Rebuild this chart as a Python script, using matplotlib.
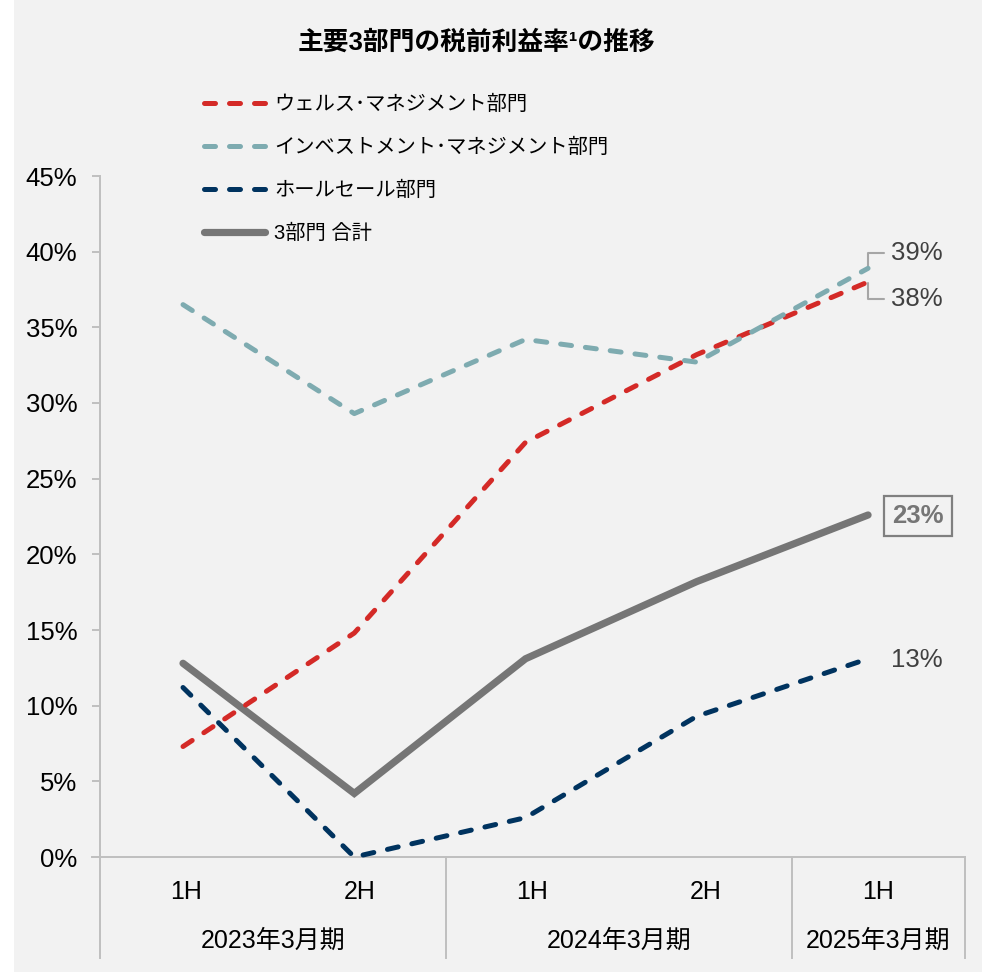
import matplotlib
matplotlib.use('Agg')
import matplotlib.pyplot as plt
import matplotlib.transforms as mtransforms
from matplotlib.patches import Rectangle

plt.rcParams['font.family'] = ['Liberation Sans', 'Noto Sans CJK JP']

# ---------------- data ----------------
title = '主要3部門の税前利益率¹の推移'
periods = ['1H', '2H', '1H', '2H', '1H']
fiscal_years = ['2023年3月期', '2024年3月期', '2025年3月期']
group_sizes = [2, 2, 1]
series_names = ['ウェルス･マネジメント部門', 'インベストメント･マネジメント部門',
                'ホールセール部門', '3部門 合計']
wealth = [7.3, 14.8, 27.4, 33.2, 38.0]
investment = [36.5, 29.3, 34.2, 32.7, 38.9]
wholesale = [11.2, 0.0, 2.6, 9.3, 13.1]
total = [12.8, 4.2, 13.1, 18.2, 22.6]
yticks = [0, 5, 10, 15, 20, 25, 30, 35, 40, 45]
end_labels = {'wealth': '38%', 'investment': '39%', 'wholesale': '13%', 'total': '23%'}

# ---------------- styles ----------------
C_RED = '#d42a27'
C_TEAL = '#7eabb0'
C_NAVY = '#00335f'
C_GRAY = '#767676'
C_AXIS = '#bfbfbf'
C_TXT = '#404040'

W, H = 994, 972
fig = plt.figure(figsize=(W / 100, H / 100), dpi=100)
fig.patch.set_facecolor('white')
fig.patches.append(Rectangle((14 / W, 0), (982 - 14) / W, 1, transform=fig.transFigure,
                             facecolor='#f2f2f2', edgecolor='none', zorder=-10))

ax = fig.add_axes([100 / W, (H - 857) / H, 865 / W, 681 / H])
ax.patch.set_visible(False)

x = list(range(len(periods)))
xmin, xmax = -0.4847, 4.566
ax.set_xlim(xmin, xmax)
ax.set_ylim(0, 45)

dash_kw = dict(lw=3.6, dashes=(2.2, 2.8), dash_capstyle='round', solid_capstyle='round')
l_tot, = ax.plot(x, total, color=C_GRAY, lw=5.2, solid_capstyle='round',
                 solid_joinstyle='miter', clip_on=False, zorder=3)
l_w, = ax.plot(x, wealth, color=C_RED, clip_on=False, zorder=4, **dash_kw)
l_i, = ax.plot(x, investment, color=C_TEAL, clip_on=False, zorder=4, **dash_kw)
l_ws, = ax.plot(x, wholesale, color=C_NAVY, clip_on=False, zorder=5, **dash_kw)

# axes styling
for s in ['top', 'right', 'bottom']:
    ax.spines[s].set_visible(False)
ax.spines['left'].set_color(C_AXIS)
ax.spines['left'].set_linewidth(1.4)
ax.set_yticks(yticks)
ax.set_yticklabels([f'{v}%' for v in yticks])
ax.tick_params(axis='y', length=5.8, width=1.4, color=C_AXIS, labelsize=18.5,
               pad=10.5, labelcolor='black')
ax.set_xticks([])

# bottom axis line (extends left by tick length)
bt = mtransforms.blended_transform_factory(ax.transAxes, ax.transData)
ax.plot([-8 / 865, 1], [0, 0], color=C_AXIS, lw=1.4, transform=bt, clip_on=False, zorder=2)

# multi-level category axis
xt = mtransforms.blended_transform_factory(ax.transData, ax.transAxes)
w = (xmax - xmin) / len(periods)
bounds = [0]
for g in group_sizes:
    bounds.append(bounds[-1] + g)
for b in bounds:
    bx = xmin + b * w
    ax.plot([bx, bx], [0, -101 / 681], color=C_AXIS, lw=1.4, transform=xt,
            clip_on=False, zorder=2)
for i, p in enumerate(periods):
    ax.text(xmin + (i + 0.5) * w, -35 / 681, p, transform=xt, ha='center', va='center',
            fontsize=18, color='black')
for k, fy in enumerate(fiscal_years):
    cx = xmin + (bounds[k] + bounds[k + 1]) / 2 * w
    ax.text(cx, -84 / 681, fy, transform=xt, ha='center', va='center',
            fontsize=18, color='black')

# end labels
arrow_kw = dict(arrowstyle='-', color='#a6a6a6', lw=1.5,
                connectionstyle='angle,angleA=0,angleB=90,rad=0',
                relpos=(0, 0.5), shrinkA=3, shrinkB=1)
ax.annotate(end_labels['investment'], xy=(x[-1], investment[-1]), xytext=(23, 15),
            textcoords='offset pixels', ha='left', va='center', fontsize=18.5,
            color=C_TXT, arrowprops=arrow_kw, annotation_clip=False)
ax.annotate(end_labels['wealth'], xy=(x[-1], wealth[-1]), xytext=(23, -17),
            textcoords='offset pixels', ha='left', va='center', fontsize=18.5,
            color=C_TXT, arrowprops=arrow_kw, annotation_clip=False)
ax.annotate(end_labels['wholesale'], xy=(x[-1], wholesale[-1]), xytext=(23, -1),
            textcoords='offset pixels', ha='left', va='center', fontsize=18.5,
            color=C_TXT, annotation_clip=False)
ax.annotate(end_labels['total'], xy=(x[-1], total[-1]), xytext=(50, -1),
            textcoords='offset pixels', ha='center', va='center', fontsize=18.5,
            fontweight='bold', color=C_GRAY, annotation_clip=False,
            bbox=dict(boxstyle='square,pad=0.33', facecolor='none',
                      edgecolor='#808080', lw=1.6))

# legend
leg = ax.legend([l_w, l_i, l_ws, l_tot], series_names, loc='upper left',
                bbox_to_anchor=(204 / W, 1 - 95 / H), bbox_transform=fig.transFigure,
                frameon=False, fontsize=14.6, handlelength=3.0, handletextpad=0.45,
                labelspacing=1.17, borderpad=0, borderaxespad=0)

# title
fig.text(476 / W, 1 - 42 / H, title, ha='center', va='center', fontsize=18.5,
         fontweight='bold', color='black')

fig.savefig('out.png', dpi=100, facecolor=fig.get_facecolor())
